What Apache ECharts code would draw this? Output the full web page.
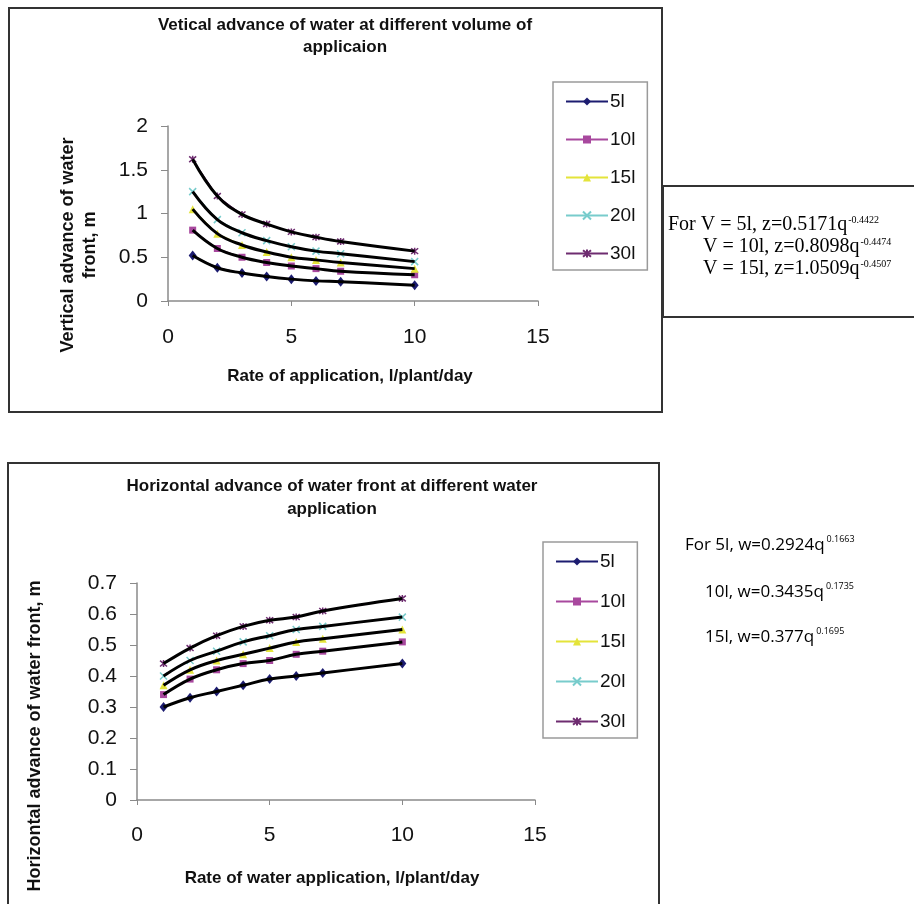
<!DOCTYPE html>
<html><head><meta charset="utf-8">
<script src="https://cdn.jsdelivr.net/npm/echarts@6/dist/echarts.min.js"></script>
<style>html,body{margin:0;padding:0;background:#fff}#c{width:914px;height:904px}</style>
</head><body><div id="c"></div>
<script>
// ---- data ----
const rates = [1, 2, 3, 4, 5, 6, 7, 10];
const seriesNames = ['5l', '10l', '15l', '20l', '30l'];
// vertical advance (m)
const vert5  = [0.52, 0.38, 0.32, 0.28, 0.25, 0.23, 0.22, 0.18];
const vert10 = [0.81, 0.60, 0.50, 0.44, 0.40, 0.37, 0.34, 0.30];
const vert15 = [1.05, 0.77, 0.64, 0.56, 0.50, 0.47, 0.44, 0.37];
const vert20 = [1.25, 0.93, 0.78, 0.69, 0.62, 0.57, 0.54, 0.45];
const vert30 = [1.62, 1.20, 0.99, 0.88, 0.79, 0.73, 0.68, 0.57];
// horizontal advance (m)
const horiz5  = [0.30, 0.33, 0.35, 0.37, 0.39, 0.40, 0.41, 0.44];
const horiz10 = [0.34, 0.39, 0.42, 0.44, 0.45, 0.47, 0.48, 0.51];
const horiz15 = [0.37, 0.42, 0.45, 0.47, 0.49, 0.51, 0.52, 0.55];
const horiz20 = [0.40, 0.45, 0.48, 0.51, 0.53, 0.55, 0.56, 0.59];
const horiz30 = [0.44, 0.49, 0.53, 0.56, 0.58, 0.59, 0.61, 0.65];
// ticks
const xTickValues = [0, 5, 10, 15];
const vertTickValues = [0, 0.5, 1, 1.5, 2];
const horizTickValues = [0, 0.1, 0.2, 0.3, 0.4, 0.5, 0.6, 0.7];

const vertData = [vert5, vert10, vert15, vert20, vert30];
const horizData = [horiz5, horiz10, horiz15, horiz20, horiz30];

// ---- styles ----
const F = '"Liberation Sans", Arial, sans-serif';
const marks = [
  {symbol: 'diamond', size: [8, 10], color: '#1c1c70', fill: '#1c1c70', bw: 0},
  {symbol: 'rect', size: 7, color: '#a8489e', fill: '#a8489e', bw: 0},
  {symbol: 'triangle', size: 8, color: '#e4e43a', fill: '#e4e43a', bw: 0},
  {symbol: 'path://M0,0L10,10M10,0L0,10', size: 7, color: '#78cccc', fill: 'none', bw: 1.5},
  {symbol: 'path://M0,0L10,10M10,0L0,10M5,-1L5,11', size: 7, color: '#6e2c70', fill: 'none', bw: 1.5}
];

function buildSeries(dataSets, axisIdx) {
  const out = [];
  dataSets.forEach((vals, k) => {
    const m = marks[k];
    const pts = rates.map((r, i) => [r, vals[i]]);
    out.push({
      name: seriesNames[k], type: 'line', xAxisIndex: axisIdx, yAxisIndex: axisIdx,
      data: pts, symbol: m.symbol, symbolSize: m.size, showSymbol: true,
      lineStyle: {color: m.color, width: 1},
      itemStyle: {color: m.fill, borderColor: m.color, borderWidth: m.bw},
      z: 2, silent: true
    });
    out.push({
      name: seriesNames[k] + ' fit' + axisIdx, type: 'line', xAxisIndex: axisIdx, yAxisIndex: axisIdx,
      data: pts, smooth: 0.4, showSymbol: false, symbol: 'none',
      lineStyle: {color: '#000', width: 3}, z: 3, silent: true
    });
  });
  return out;
}

function xAxisCfg(gi, margin) {
  return {
    type: 'value', gridIndex: gi,
    min: xTickValues[0], max: xTickValues[xTickValues.length - 1],
    interval: xTickValues[1] - xTickValues[0],
    axisLine: {show: true, lineStyle: {color: '#8a8a8a', width: 1.5}},
    axisTick: {show: true, inside: false, length: 5, lineStyle: {color: '#8a8a8a'}},
    axisLabel: {fontFamily: F, fontSize: 21, color: '#111', margin: margin},
    splitLine: {show: false}
  };
}
function yAxisCfg(gi, ticks) {
  return {
    type: 'value', gridIndex: gi,
    min: ticks[0], max: ticks[ticks.length - 1],
    interval: Math.round((ticks[1] - ticks[0]) * 100) / 100,
    axisLine: {show: true, lineStyle: {color: '#8a8a8a', width: 1.5}},
    axisTick: {show: true, inside: false, length: 7, lineStyle: {color: '#8a8a8a'}},
    axisLabel: {fontFamily: F, fontSize: 21, color: '#111', margin: 20,
      formatter: v => String(Math.round(v * 10) / 10)},
    splitLine: {show: false}
  };
}
function legendCfg(left, top, gap) {
  return {
    data: seriesNames, orient: 'vertical', left: left, top: top,
    itemWidth: 42, itemHeight: 10, itemGap: gap,
    padding: [10, 12, 7, 12],
    borderColor: '#9a9a9a', borderWidth: 1.5, backgroundColor: '#fff',
    textStyle: {fontFamily: F, fontSize: 19, color: '#111', padding: [0, 0, 0, -3]},
    selectedMode: false
  };
}

const txt = (x, y, text, font, extra) => ({
  type: 'text', x: x, y: y, silent: true,
  style: Object.assign({text: text, font: font, fill: '#111', textAlign: 'center', textVerticalAlign: 'middle'}, extra || {})
});

const serif = '"Liberation Serif", "Times New Roman", serif';
const eqStyle = {
  a: {fontFamily: serif, fontSize: 20, color: '#111', lineHeight: 22},
  s: {fontFamily: serif, fontSize: 10, color: '#333', lineHeight: 22, padding: [0, 0, 9, 1]}
};
const eq2Style = {
  a: {fontFamily: '"Open Sans", sans-serif', fontSize: 17, color: '#333', lineHeight: 22},
  s: {fontFamily: '"Open Sans", sans-serif', fontSize: 9, color: '#555', lineHeight: 22, padding: [0, 0, 12, 2]}
};

const chart = echarts.init(document.getElementById('c'), null, {renderer: 'canvas'});
chart.setOption({
  animation: false,
  backgroundColor: '#fff',
  grid: [
    {left: 168, top: 126, width: 370, height: 175, containLabel: false},
    {left: 137, top: 583, width: 398, height: 217, containLabel: false}
  ],
  xAxis: [xAxisCfg(0, 26), xAxisCfg(1, 25)],
  yAxis: [yAxisCfg(0, vertTickValues), yAxisCfg(1, horizTickValues)],
  legend: [legendCfg(553, 82, 19), legendCfg(543, 542, 21)],
  series: buildSeries(vertData, 0).concat(buildSeries(horizData, 1)),
  graphic: [
    // chart frames
    {type: 'rect', shape: {x: 9, y: 8, width: 653, height: 404}, style: {fill: 'none', stroke: '#333', lineWidth: 2}, silent: true, z: -10},
    {type: 'rect', shape: {x: 8, y: 463, width: 651, height: 470}, style: {fill: 'none', stroke: '#333', lineWidth: 2}, silent: true, z: -10},
    {type: 'rect', shape: {x: 663, y: 186, width: 270, height: 131}, style: {fill: '#fff', stroke: '#333', lineWidth: 2}, silent: true, z: -10},
    // titles
    txt(345, 36, 'Vetical advance of water at different volume of\napplicaion', 'bold 17px ' + F, {lineHeight: 22}),
    txt(332, 498, 'Horizontal advance of water front at different water\napplication', 'bold 17px ' + F, {lineHeight: 23}),
    // axis titles
    txt(350, 376, 'Rate of application, l/plant/day', 'bold 17px ' + F),
    txt(332, 878, 'Rate of water application, l/plant/day', 'bold 17px ' + F),
    Object.assign(txt(79, 245, 'Vertical advance of water\nfront, m', 'bold 18px ' + F, {lineHeight: 22}), {rotation: Math.PI / 2}),
    Object.assign(txt(35, 736, 'Horizontal advance of water front, m', 'bold 18px ' + F), {rotation: Math.PI / 2}),
    // equations
    {type: 'text', x: 668, y: 214, silent: true, style: {
      text: '{a|For V = 5l, z=0.5171q}{s|-0.4422}\n{a|       V = 10l, z=0.8098q}{s|-0.4474}\n{a|       V = 15l, z=1.0509q}{s|-0.4507}',
      rich: eqStyle, textVerticalAlign: 'top'}},
    {type: 'text', x: 685, y: 534, silent: true, style: {
      text: '{a|For 5l, w=0.2924q}{s|0.1663}', rich: eq2Style}},
    {type: 'text', x: 705, y: 581, silent: true, style: {
      text: '{a|10l, w=0.3435q}{s|0.1735}', rich: eq2Style}},
    {type: 'text', x: 705, y: 626, silent: true, style: {
      text: '{a|15l, w=0.377q}{s|0.1695}', rich: eq2Style}}
  ]
});
</script></body></html>
